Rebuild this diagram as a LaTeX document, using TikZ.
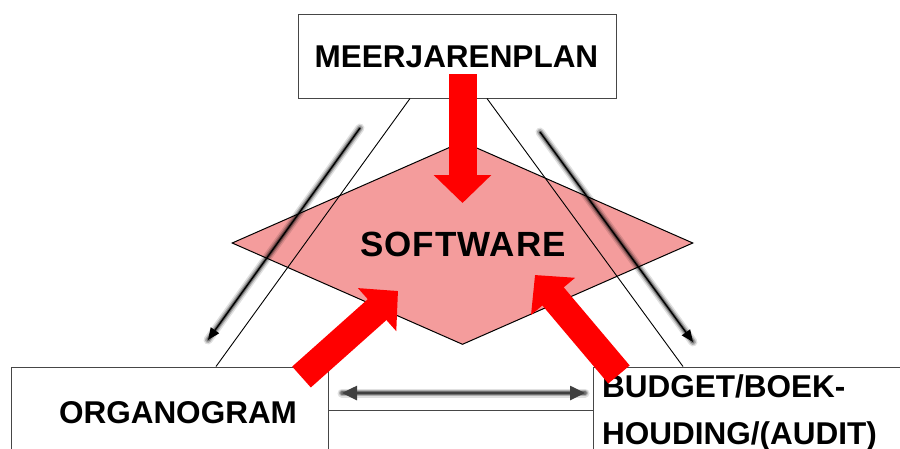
\documentclass[tikz,border=0pt]{standalone}
\usepackage{fontspec}
\setmainfont{Liberation Sans}
\usetikzlibrary{shapes.geometric,arrows.meta,calc}
\definecolor{swpink}{RGB}{244,156,156}
\definecolor{boxgray}{RGB}{70,70,70}
\begin{document}
\begin{tikzpicture}[x=1pt,y=-1pt,
  boxnode/.style={draw=boxgray, line width=1pt, fill=white, rectangle, inner sep=0pt},
  lbl/.style={font=\fontsize{31.5}{46}\selectfont\bfseries, inner sep=0pt},
  thinline/.style={draw=black, line width=0.9pt},
  redarrow/.style={draw=red, line width=28pt, -{Triangle[length=28pt,width=56pt]}},
  shadowed/.style={
    preaction={draw=black, draw opacity=0.12, line width=9pt, line cap=round, arrows=-},
    preaction={draw=black, draw opacity=0.22, line width=6pt, line cap=round, arrows=-},
    preaction={draw=black, draw opacity=0.35, line width=3.5pt, line cap=round, arrows=-}},
  blackarrow/.style={draw=black, line width=1.4pt, -{Triangle[length=12pt,width=10pt]}, shadowed},
  dblarrow/.style={draw=black!75, line width=2.6pt, {Triangle[length=15pt,width=14pt]}-{Triangle[length=15pt,width=14pt]}, shadowed}
]
\useasboundingbox (0,0) rectangle (900,448);
\clip (0,0) rectangle (900,448);

% diamond
\node[diamond, fill=swpink, draw=black, line width=1pt, shape aspect=2.27,
      minimum width=461pt, minimum height=203pt, inner sep=0pt] (sw) at (462.5,243) {};

% boxes
\node[boxnode, minimum width=318pt, minimum height=84pt] (mjp) at (457,56) {};
\node[boxnode, minimum width=317pt, minimum height=103pt] (org) at (169.5,418.5) {};
\node[boxnode, minimum width=265pt, minimum height=60pt] (mid) at (460.5,440) {};
\node[boxnode, minimum width=327pt, minimum height=103pt] (bud) at (756.5,418.5) {};

% thin triangle lines
\draw[thinline] (410,0 |- mjp.south) -- (216,0 |- org.north);
\draw[thinline] (487,0 |- mjp.south) -- (683,0 |- bud.north);

% shadowed black arrows
\coordinate (la1) at (360,128);
\coordinate (la2) at (208,340);
\coordinate (ra1) at (540,132);
\coordinate (ra2) at (693,342);
\coordinate (da1) at (342,393);
\coordinate (da2) at (585,393);
\draw[blackarrow] (la1) -- (la2);
\draw[blackarrow] (ra1) -- (ra2);
\draw[dblarrow] (da1) -- (da2);

% texts
\node[lbl, anchor=base] (mjptxt) at (456.5,67) {MEERJARENPLAN};
\node[lbl, font=\fontsize{35}{40}\selectfont\bfseries, anchor=base] (swtxt) at (463,256) {\addfontfeatures{LetterSpace=3}SOFTWARE};
\node[lbl, anchor=base] (orgtxt) at (178,423) {ORGANOGRAM};
\node[lbl, anchor=base west] (budtxt1) at (602,397) {BUDGET/BOEK-};
\node[lbl, anchor=base west] (budtxt2) at (602,444) {HOUDING/(AUDIT)};

% red arrows
\coordinate (t1) at (462.5,74);
\coordinate (t2) at (462.5,203);
\coordinate (l1) at (301.5,377);
\coordinate (l2) at (398,291);
\coordinate (r1) at (619,374.5);
\coordinate (r2) at (535,275);
\draw[redarrow] (t1) -- (t2);
\draw[redarrow] (l1) -- (l2);
\draw[redarrow] (r1) -- (r2);
\end{tikzpicture}
\end{document}
